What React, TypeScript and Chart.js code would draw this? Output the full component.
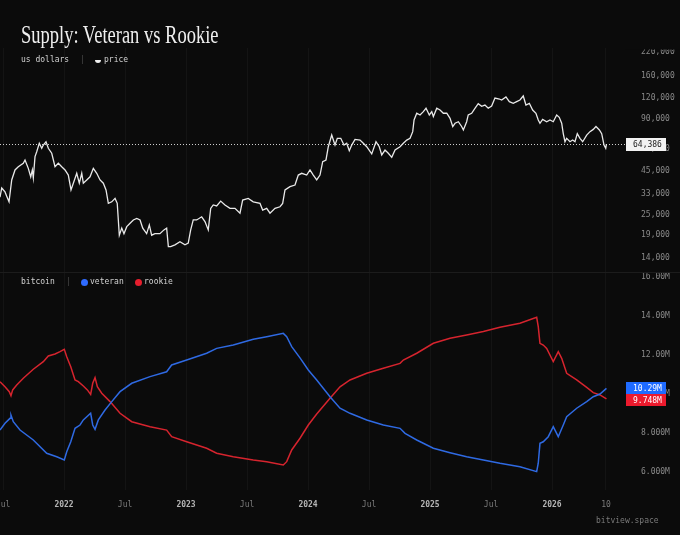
import { useEffect, useRef } from "react";
import { Chart, registerables } from "chart.js";

Chart.register(...registerables);

const MONO = "'DejaVu Sans Mono', monospace";
const BG = "#0b0b0b";

// time in decimal years
const priceT = [
  2021.475, 2021.489, 2021.516, 2021.53, 2021.549, 2021.571, 2021.598, 2021.625, 2021.666, 2021.68,
  2021.707, 2021.727, 2021.74, 2021.748, 2021.762, 2021.776, 2021.797, 2021.817, 2021.83, 2021.852,
  2021.871, 2021.899, 2021.926, 2021.953, 2021.981, 2022.008, 2022.035, 2022.057, 2022.076, 2022.104,
  2022.125, 2022.145, 2022.158, 2022.186, 2022.213, 2022.24, 2022.268, 2022.295, 2022.322, 2022.344,
  2022.363, 2022.391, 2022.418, 2022.436, 2022.453, 2022.473, 2022.491, 2022.514, 2022.541, 2022.568,
  2022.596, 2022.623, 2022.645, 2022.677, 2022.699, 2022.718, 2022.745, 2022.786, 2022.819, 2022.841,
  2022.855, 2022.874, 2022.909, 2022.95, 2022.991, 2023.018, 2023.038, 2023.059, 2023.087, 2023.128,
  2023.155, 2023.182, 2023.202, 2023.223, 2023.251, 2023.284, 2023.319, 2023.36, 2023.401, 2023.442,
  2023.464, 2023.51, 2023.551, 2023.606, 2023.628, 2023.661, 2023.688, 2023.729, 2023.77, 2023.792,
  2023.811, 2023.852, 2023.893, 2023.92, 2023.948, 2023.989, 2024.016, 2024.043, 2024.071, 2024.098,
  2024.12, 2024.147, 2024.166, 2024.194, 2024.221, 2024.24, 2024.268, 2024.295, 2024.317, 2024.338,
  2024.358, 2024.385, 2024.426, 2024.453, 2024.481, 2024.522, 2024.557, 2024.584, 2024.604, 2024.631,
  2024.658, 2024.686, 2024.713, 2024.754, 2024.781, 2024.809, 2024.836, 2024.858, 2024.869, 2024.891,
  2024.918, 2024.945, 2024.967, 2024.994, 2025.014, 2025.027, 2025.055, 2025.082, 2025.109, 2025.137,
  2025.164, 2025.186, 2025.205, 2025.232, 2025.259, 2025.273, 2025.3, 2025.313, 2025.341, 2025.368,
  2025.395, 2025.423, 2025.45, 2025.477, 2025.505, 2025.532, 2025.568, 2025.587, 2025.622, 2025.65,
  2025.682, 2025.71, 2025.737, 2025.764, 2025.786, 2025.814, 2025.841, 2025.868, 2025.887, 2025.901,
  2025.923, 2025.956, 2025.983, 2026.01, 2026.038, 2026.059, 2026.079, 2026.092, 2026.106, 2026.12,
  2026.147, 2026.169, 2026.188, 2026.207, 2026.229, 2026.251, 2026.284, 2026.311, 2026.338, 2026.36,
  2026.388, 2026.407, 2026.426, 2026.44, 2026.446,
];
const priceUsd = [
  31600, 35700, 33900, 32000, 29700, 39800, 45500, 47500, 49800, 52000,
  46500, 41500, 45500, 40900, 54400, 58100, 65000, 60800, 63500, 66400,
  60800, 56900, 47500, 49800, 47500, 45500, 42500, 34800, 38100, 43500,
  38100, 43500, 38100, 39800, 41500, 46500, 43500, 39800, 38100, 34800,
  29100, 29700, 31100, 29100, 19000, 20900, 19400, 21300, 22300, 23300,
  23800, 23300, 20900, 19400, 21800, 19000, 19400, 19400, 20400, 20900,
  16300, 16300, 16700, 17400, 16700, 17100, 20400, 23300, 23300, 24300,
  22800, 20400, 27200, 28500, 28100, 30000, 28500, 27200, 27200, 25500,
  30400, 31100, 29700, 29100, 26600, 27200, 25500, 27200, 27800, 29100,
  34800, 36400, 37200, 42500, 43500, 42500, 45500, 42500, 39800, 42500,
  50800, 52000, 62100, 72600, 63500, 69500, 69500, 63500, 65000, 58800,
  63500, 68500, 67900, 65000, 62100, 56400, 66400, 62100, 55600, 59400,
  56900, 53900, 59400, 62100, 65000, 67900, 69500, 76000, 88800, 97200,
  95000, 99300, 103900, 95000, 99300, 93000, 103900, 101500, 97200, 97200,
  90800, 81400, 85000, 86800, 81400, 77700, 86800, 95000, 97200, 103900,
  110500, 106600, 108500, 103900, 107000, 119200, 117600, 116100, 120900, 113600,
  111000, 113600, 116100, 122500, 108500, 111000, 101500, 97200, 88800, 85000,
  89600, 86800, 88800, 86800, 95000, 92100, 85000, 74000, 66400, 69500,
  66400, 67900, 66400, 74000, 69500, 66400, 72600, 76000, 78300, 81400,
  77700, 74000, 63500, 60800, 64386,
];

// supply in millions of BTC
const veteranT = [
  2021.475, 2021.516, 2021.557, 2021.565, 2021.584, 2021.639, 2021.748, 2021.858, 2021.94, 2022.002,
  2022.022, 2022.055, 2022.09, 2022.131, 2022.158, 2022.218, 2022.235, 2022.254, 2022.281, 2022.336,
  2022.391, 2022.459, 2022.555, 2022.705, 2022.841, 2022.882, 2023.005, 2023.169, 2023.251, 2023.387,
  2023.551, 2023.661, 2023.797, 2023.825, 2023.866, 2023.934, 2024.002, 2024.071, 2024.18, 2024.262,
  2024.344, 2024.481, 2024.617, 2024.754, 2024.795, 2024.891, 2025.027, 2025.164, 2025.3, 2025.437,
  2025.573, 2025.737, 2025.874, 2025.887, 2025.901, 2025.928, 2025.969, 2026.01, 2026.051, 2026.092,
  2026.12, 2026.202, 2026.284, 2026.338, 2026.393, 2026.446,
];
const veteranM = [
  8.15, 8.5, 8.75, 8.92, 8.58, 8.15, 7.64, 6.96, 6.78, 6.62,
  7.04, 7.55, 8.24, 8.41, 8.67, 9.01, 8.41, 8.19, 8.67, 9.18,
  9.61, 10.12, 10.55, 10.89, 11.14, 11.49, 11.74, 12.09, 12.34, 12.51,
  12.81, 12.94, 13.11, 12.94, 12.43, 11.85, 11.23, 10.72, 9.86, 9.27,
  9.01, 8.67, 8.41, 8.24, 7.98, 7.64, 7.22, 6.99, 6.78, 6.62,
  6.45, 6.27, 6.02, 6.45, 7.47, 7.55, 7.81, 8.32, 7.81, 8.41,
  8.84, 9.27, 9.61, 9.86, 10.0, 10.29,
];
const rookieT = [
  2021.475, 2021.516, 2021.551, 2021.565, 2021.579, 2021.612, 2021.666, 2021.748, 2021.83, 2021.871,
  2021.926, 2021.967, 2022.002, 2022.022, 2022.055, 2022.09, 2022.117, 2022.158, 2022.191, 2022.218,
  2022.235, 2022.254, 2022.273, 2022.309, 2022.377, 2022.459, 2022.555, 2022.705, 2022.841, 2022.882,
  2023.005, 2023.169, 2023.251, 2023.387, 2023.551, 2023.661, 2023.797, 2023.825, 2023.866, 2023.934,
  2024.002, 2024.071, 2024.18, 2024.262, 2024.344, 2024.481, 2024.617, 2024.754, 2024.781, 2024.891,
  2025.027, 2025.164, 2025.3, 2025.437, 2025.573, 2025.737, 2025.874, 2025.887, 2025.901, 2025.928,
  2025.956, 2026.01, 2026.051, 2026.079, 2026.12, 2026.202, 2026.284, 2026.338, 2026.393, 2026.446,
];
const rookieM = [
  10.63, 10.37, 10.12, 9.91, 10.21, 10.46, 10.81, 11.27, 11.66, 11.95,
  12.05, 12.17, 12.29, 11.91, 11.4, 10.72, 10.63, 10.41, 10.21, 9.98,
  10.55, 10.84, 10.37, 10.04, 9.61, 9.01, 8.58, 8.32, 8.15, 7.81,
  7.55, 7.22, 6.96, 6.78, 6.62, 6.53, 6.36, 6.53, 7.13, 7.73,
  8.41, 8.97, 9.78, 10.37, 10.72, 11.06, 11.32, 11.57, 11.74, 12.09,
  12.6, 12.86, 13.03, 13.2, 13.42, 13.63, 13.93, 13.45, 12.6, 12.51,
  12.34, 11.66, 12.17, 11.83, 11.06, 10.72, 10.34, 10.07, 9.95, 9.748,
];

const xTickValues = [2021.5, 2022, 2022.5, 2023, 2023.5, 2024, 2024.5, 2025, 2025.5, 2026, 2026.442];
const xTickLabels = ["Jul", "2022", "Jul", "2023", "Jul", "2024", "Jul", "2025", "Jul", "2026", "10"];
const priceTicks = [14000, 19000, 25000, 33000, 45000, 60000, 90000, 120000, 160000, 220000];
const supplyTicks = [6, 8, 10, 12, 14, 16];

const VET_COLOR = "#2f6ae3";
const ROOK_COLOR = "#d6242e";

function commas(n: number): string {
  const s = String(Math.round(n));
  return s.replace(/\B(?=(\d{3})+(?!\d))/g, ",");
}
function fmtM(v: number): string {
  return v.toPrecision(4) + "M";
}
function pts(xs: number[], ys: number[]) {
  return xs.map((x, i) => ({ x, y: ys[i] }));
}

export default function App() {
  const ref = useRef<HTMLCanvasElement>(null);

  useEffect(() => {
    const canvas = ref.current;
    if (!canvas) return;
    const lastPrice = priceUsd[priceUsd.length - 1];
    const lastVet = veteranM[veteranM.length - 1];
    const lastRook = rookieM[rookieM.length - 1];

    const overlay = {
      id: "overlay",
      beforeDatasetsDraw(chart: any) {
        const { ctx, chartArea } = chart;
        const y = Math.round(chart.scales.yPrice.getPixelForValue(lastPrice)) + 0.5;
        ctx.save();
        ctx.strokeStyle = "rgba(255,255,255,0.8)";
        ctx.lineWidth = 1;
        ctx.setLineDash([1, 2]);
        ctx.beginPath();
        ctx.moveTo(chartArea.left, y);
        ctx.lineTo(chartArea.right, y);
        ctx.stroke();
        ctx.restore();
      },
      afterDraw(chart: any) {
        const { ctx, chartArea, width } = chart;
        ctx.save();
        ctx.fillStyle = BG;
        ctx.fillRect(chartArea.right, 0, width - chartArea.right, chartArea.top + 1.5);
        const sep = Math.round(chart.scales.yPrice.bottom);
        ctx.fillStyle = "#1c1c1c";
        ctx.fillRect(0, sep, width, 1);

        const bx = chartArea.right + 1;
        const bw = 40;
        const drawBox = (cy: number, h: number, text: string, bg: string, fg: string) => {
          ctx.fillStyle = bg;
          ctx.fillRect(bx, Math.round(cy - h / 2), bw, h);
          ctx.fillStyle = fg;
          ctx.font = `8px ${MONO}`;
          ctx.textAlign = "left";
          ctx.textBaseline = "middle";
          ctx.fillText(text, chartArea.right + 8, Math.round(cy - h / 2) + h / 2 + 0.5);
        };
        const py = chart.scales.yPrice.getPixelForValue(lastPrice);
        drawBox(py, 13, commas(lastPrice), "#f2f2f2", "#1a1a1a");

        const ys = chart.scales.ySupply;
        let cv = ys.getPixelForValue(lastVet);
        let cr = ys.getPixelForValue(lastRook);
        const h = 12;
        if (Math.abs(cr - cv) < h) {
          const mid = (cv + cr) / 2;
          if (cv < cr) {
            cv = mid - h / 2;
            cr = mid + h / 2;
          } else {
            cv = mid + h / 2;
            cr = mid - h / 2;
          }
        }
        drawBox(cv, h, fmtM(lastVet), "#1f6bff", "#ffffff");
        drawBox(cr, h, fmtM(lastRook), "#ec1a2d", "#ffffff");
        ctx.restore();
      },
    };

    const chart = new Chart(canvas, {
      type: "line",
      data: {
        datasets: [
          {
            label: "price",
            data: pts(priceT, priceUsd),
            xAxisID: "x",
            yAxisID: "yPrice",
            borderColor: "#e9e9e9",
            borderWidth: 1.3,
            pointRadius: 0,
            tension: 0,
          },
          {
            label: "veteran",
            data: pts(veteranT, veteranM),
            xAxisID: "x",
            yAxisID: "ySupply",
            borderColor: VET_COLOR,
            borderWidth: 1.5,
            pointRadius: 0,
            tension: 0,
          },
          {
            label: "rookie",
            data: pts(rookieT, rookieM),
            xAxisID: "x",
            yAxisID: "ySupply",
            borderColor: ROOK_COLOR,
            borderWidth: 1.5,
            pointRadius: 0,
            tension: 0,
          },
        ],
      },
      options: {
        animation: false,
        responsive: false,
        layout: { padding: { top: 48, left: 0, right: 0, bottom: 0 } },
        plugins: { legend: { display: false }, tooltip: { enabled: false } },
        events: [],
        scales: {
          x: {
            type: "linear",
            bounds: "data",
            min: 2021.475,
            max: 2026.598,
            afterBuildTicks: (s: any) => {
              s.ticks = xTickValues.map((v) => ({ value: v }));
            },
            afterFit: (s: any) => {
              s.height = 45;
              s.paddingLeft = 0;
              s.paddingRight = 0;
            },
            grid: { color: "rgba(255,255,255,0.04)", drawTicks: false },
            border: { display: false },
            ticks: {
              autoSkip: false,
              maxRotation: 0,
              padding: 10,
              callback: (_v: any, i: number) => xTickLabels[i],
              color: (c: any) => (/^\d{4}$/.test(xTickLabels[c.index] || "") ? "#b4b4b4" : "#7c7c7c"),
              font: (c: any) => ({
                family: MONO,
                size: 8,
                weight: /^\d{4}$/.test(xTickLabels[c.index] || "") ? "bold" : "normal",
              }),
            },
          },
          yPrice: {
            type: "logarithmic",
            position: "right",
            stack: "panes",
            stackWeight: 224,
            weight: 0,
            bounds: "data",
            min: 11610,
            max: 232800,
            afterBuildTicks: (s: any) => {
              s.ticks = priceTicks.map((v) => ({ value: v }));
            },
            afterFit: (s: any) => {
              s.width = 55;
              s.paddingTop = 0;
              s.paddingBottom = 0;
            },
            grid: { display: false },
            border: { display: false },
            ticks: {
              padding: 8,
              color: "#8a8a8a",
              font: { family: MONO, size: 8 },
              callback: (v: any) => commas(Number(v)),
            },
          },
          ySupply: {
            type: "linear",
            position: "right",
            stack: "panes",
            stackWeight: 218,
            weight: 1,
            bounds: "data",
            min: 5.077,
            max: 16.256,
            afterBuildTicks: (s: any) => {
              s.ticks = supplyTicks.map((v) => ({ value: v }));
            },
            afterFit: (s: any) => {
              s.width = 55;
              s.paddingTop = 0;
              s.paddingBottom = 0;
            },
            grid: { display: false },
            border: { display: false },
            ticks: {
              padding: 8,
              color: "#8a8a8a",
              font: { family: MONO, size: 8 },
              callback: (v: any) => fmtM(Number(v)),
            },
          },
        },
      } as any,
      plugins: [overlay],
    });
    return () => chart.destroy();
  }, []);

  const mono: any = {
    position: "absolute",
    fontFamily: MONO,
    fontSize: 8,
    lineHeight: "10px",
    whiteSpace: "nowrap",
  };

  return (
    <div
      style={{
        position: "fixed",
        left: 0,
        top: 0,
        width: 680,
        height: 535,
        background: BG,
        overflow: "hidden",
      }}
    >
      <canvas ref={ref} width={680} height={535} style={{ display: "block", width: 680, height: 535 }} />
      <div
        style={{
          position: "absolute",
          left: 21,
          top: 22,
          fontFamily: "'Liberation Serif', serif",
          fontSize: 25,
          lineHeight: "25px",
          color: "#efefef",
          whiteSpace: "nowrap",
          transform: "scaleX(0.74)",
          transformOrigin: "left top",
        }}
      >
        Supply: Veteran vs Rookie
      </div>
      <div style={{ ...mono, left: 21, top: 55, color: "#d2d2d2" }}>us dollars</div>
      <div style={{ ...mono, left: 80, top: 55, color: "#4a4a4a" }}>|</div>
      <div
        style={{
          position: "absolute",
          left: 95,
          top: 59.5,
          width: 6,
          height: 3,
          background: "#f0f0f0",
          borderRadius: "0 0 3px 3px",
        }}
      />
      <div style={{ ...mono, left: 104, top: 55, color: "#d2d2d2" }}>price</div>

      <div style={{ ...mono, left: 21, top: 277, color: "#d2d2d2" }}>bitcoin</div>
      <div style={{ ...mono, left: 66, top: 277, color: "#4a4a4a" }}>|</div>
      <div
        style={{
          position: "absolute",
          left: 80.5,
          top: 278.5,
          width: 7,
          height: 7,
          borderRadius: "50%",
          background: "#2f6bff",
        }}
      />
      <div style={{ ...mono, left: 90, top: 277, color: "#d2d2d2" }}>veteran</div>
      <div
        style={{
          position: "absolute",
          left: 134.5,
          top: 278.5,
          width: 7,
          height: 7,
          borderRadius: "50%",
          background: "#e61e2d",
        }}
      />
      <div style={{ ...mono, left: 144, top: 277, color: "#d2d2d2" }}>rookie</div>

      <div style={{ ...mono, left: 596, top: 516, color: "#7a7a7a" }}>bitview.space</div>
    </div>
  );
}
